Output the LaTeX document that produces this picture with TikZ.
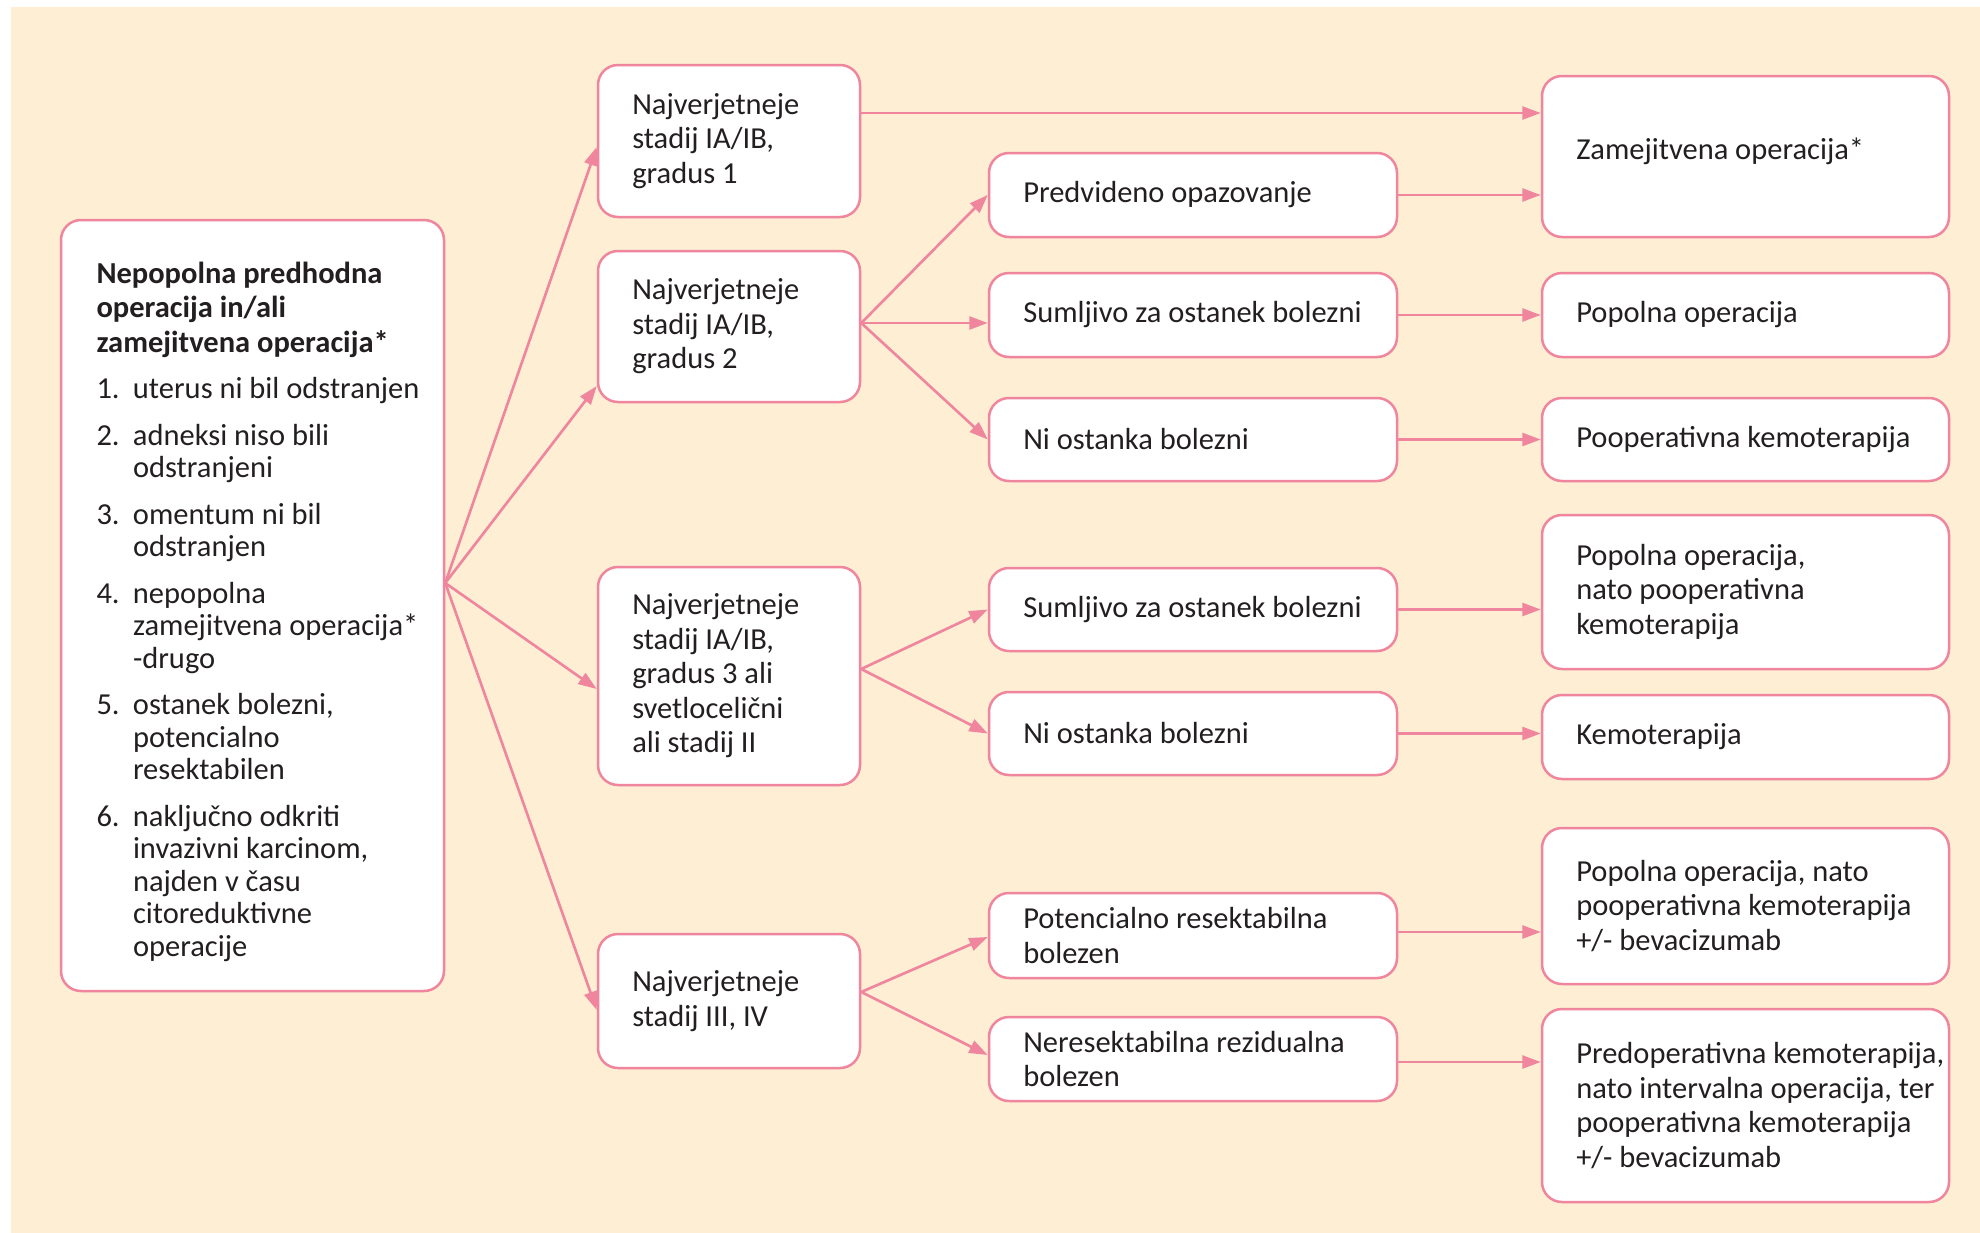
\documentclass[tikz,border=0pt]{standalone}
\usepackage{fontspec}
\setmainfont{Carlito}
\usetikzlibrary{arrows.meta,calc}
\definecolor{bgc}{RGB}{253,238,212}
\definecolor{pinkc}{RGB}{240,133,158}
\definecolor{txtc}{RGB}{35,31,32}
\hyphenpenalty=10000 \exhyphenpenalty=10000
% [text options]{name}{x1}{y1}{x2}{y2}{text}
\newcommand\flowbox[7][]{%
  \pgfmathsetlengthmacro\fbw{(#5-#3)*0.4}%
  \pgfmathsetlengthmacro\fbh{(#6-#4)*0.4}%
  \node[fbox,minimum width=\fbw,minimum height=\fbh] (#2) at ({(#3+#5)/2},{(#4+#6)/2}) {};
  \node[ftext,#1] (#2t) at ([xshift=14pt]#2.west) {#7};}
\newcommand\itm[1]{\makebox[14.6pt][l]{#1}}
\newcommand\ind{\hspace*{14.6pt}}
\begin{document}
\begin{tikzpicture}[x=0.4pt,y=-0.4pt,
  fbox/.style={draw=pinkc, line width=1pt, fill=white, rounded corners=8pt, inner sep=0pt, anchor=center},
  ftext/.style={anchor=west, inner sep=0pt, align=left, text=txtc, font=\fontsize{12.2}{13.8}\selectfont},
  arr/.style={draw=pinkc, line width=1.05pt, -{Triangle[length=7.4pt,width=5.2pt]}}]
\useasboundingbox (0,0) rectangle (1980,1233);
\fill[bgc] (11,7) rectangle (1980,1233);

\flowbox[font=\fontsize{12.2}{13}\selectfont,xshift=0.5pt,yshift=-2.5pt]{L}{61}{220}{444}{991}{%
\textbf{Nepopolna predhodna}\\[0.9pt]\textbf{operacija in/ali}\\[0.9pt]\textbf{zamejitvena operacija*}\\[5.5pt]
\itm{1.}uterus ni bil odstranjen\\[5.6pt]
\itm{2.}adneksi niso bili\\\ind odstranjeni\\[5.6pt]
\itm{3.}omentum ni bil\\\ind odstranjen\\[5.6pt]
\itm{4.}nepopolna\\\ind zamejitvena operacija*\\\ind -drugo\\[5.6pt]
\itm{5.}ostanek bolezni,\\\ind potencialno\\\ind resektabilen\\[5.6pt]
\itm{6.}naključno odkriti\\\ind invazivni karcinom,\\\ind najden v času\\\ind citoreduktivne\\\ind operacije}

\flowbox{B1}{598}{65}{860}{217}{Najverjetneje\\stadij IA/IB,\\gradus 1}
\flowbox{B2}{598}{251}{860}{402}{Najverjetneje\\stadij IA/IB,\\gradus 2}
\flowbox{B3}{598}{567}{860}{785}{Najverjetneje\\stadij IA/IB,\\gradus 3 ali\\svetloce\-lični\\ali stadij II}
\flowbox{B4}{598}{934}{860}{1068}{Najverjetneje\\stadij III, IV}

\flowbox{C1}{989}{153}{1397}{237}{Predvideno opazovanje}
\flowbox{C2}{989}{273}{1397}{357}{Sumljivo za ostanek bolezni}
\flowbox{C3}{989}{398}{1397}{481}{Ni ostanka bolezni}
\flowbox{C4}{989}{568}{1397}{651}{Sumljivo za ostanek bolezni}
\flowbox{C5}{989}{692}{1397}{775}{Ni ostanka bolezni}
\flowbox{C6}{989}{893}{1397}{978}{Potencialno resektabilna\\bolezen}
\flowbox{C7}{989}{1017}{1397}{1101}{Neresektabilna rezidualna\\bolezen}

\flowbox[yshift=2pt]{D1}{1542}{76}{1949}{237}{Zamejitvena operacija*}
\flowbox{D2}{1542}{273}{1949}{357}{Popolna operacija}
\flowbox{D3}{1542}{398}{1949}{481}{Pooperativna kemoterapija}
\flowbox{D4}{1542}{515}{1949}{669}{Popolna operacija,\\nato pooperativna\\kemoterapija}
\flowbox{D5}{1542}{695}{1949}{779}{Kemoterapija}
\flowbox{D6}{1542}{828}{1949}{984}{Popolna operacija, nato\\pooperativna kemoterapija\\+/- bevacizumab}
\flowbox{D7}{1542}{1009}{1949}{1202}{Predoperativna kemoterapija,\\nato intervalna operacija, ter\\pooperativna kemoterapija\\+/- bevacizumab}

% fan origins
\coordinate (Lo) at (L.east |- 0,583);
\coordinate (B2o) at (B2.east |- 0,323);
\coordinate (B3o) at (B3.east |- 0,669);
\coordinate (B4o) at (B4.east |- 0,992);

\draw[arr] (Lo) -- (B1.west |- 0,147);
\draw[arr] (Lo) -- (B2.west |- 0,386);
\draw[arr] (Lo) -- (B3.west |- 0,689);
\draw[arr] (Lo) -- (B4.west |- 0,1010);

\draw[arr] (B1.east |- 0,113) -- (D1.west |- 0,113);

\draw[arr] (B2o) -- (C1.west);
\draw[arr] (B2o) -- (C2.west |- B2o);
\draw[arr] (B2o) -- (C3.west);

\draw[arr] (C1.east) -- (D1.west |- C1.east);
\draw[arr] (C2.east) -- (D2.west |- C2.east);
\draw[arr] (C3.east) -- (D3.west |- C3.east);

\draw[arr] (B3o) -- (C4.west);
\draw[arr] (B3o) -- (C5.west);
\draw[arr] (C4.east) -- (D4.west |- C4.east);
\draw[arr] (C5.east) -- (D5.west |- C5.east);

\draw[arr] (B4o) -- (C6.west |- 0,937);
\draw[arr] (B4o) -- (C7.west |- 0,1055);
\draw[arr] (C6.east |- 0,932) -- (D6.west |- 0,932);
\draw[arr] (C7.east |- 0,1062) -- (D7.west |- 0,1062);
\end{tikzpicture}
\end{document}
